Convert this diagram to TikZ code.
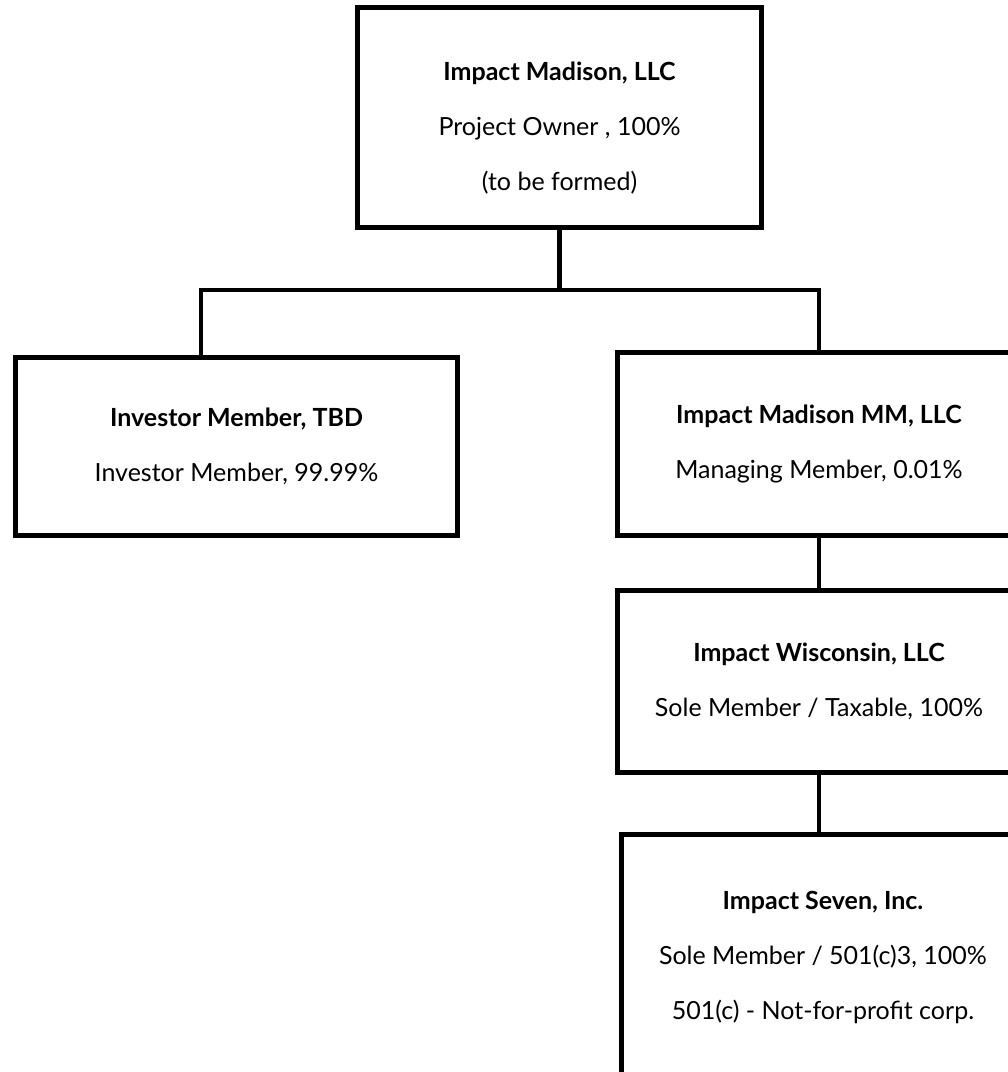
\documentclass[tikz,border=0pt]{standalone}
\usepackage{fontspec}
\setmainfont{Lato}
\usepackage{tikz}

\tikzset{
  orgbox/.style={draw, line width=5pt, rectangle, align=center,
    font=\fontsize{25}{55}\selectfont, inner sep=0pt},
  orgtext/.style={align=center, font=\fontsize{25}{55}\selectfont, inner sep=0pt},
  wire/.style={line width=4.6pt}
}

\begin{document}
\begin{tikzpicture}[x=1pt,y=-1pt]
\newcommand{\boxw}{403}
\newcommand{\rightx}{819}

\useasboundingbox (0,0) rectangle (1008,1072);
\clip (0,0) rectangle (1008,1072);

% top
\node[orgbox, minimum width=404, minimum height=220] (owner) at (559.5,117.5) {};
\node[orgtext] (ownertext) at (559.5,128)
  {\textbf{Impact Madison, LLC}\\Project Owner , 100\%\\(to be formed)};

% second row
\node[orgbox, minimum width=442, minimum height=178] (investor) at (236.5,446.5)
  {\textbf{Investor Member, TBD}\\Investor Member, 99.99\%};
\node[orgbox, minimum width=\boxw, minimum height=183] (managing) at (\rightx,444)
  {\textbf{Impact Madison MM, LLC}\\Managing Member, 0.01\%};

% chain below the managing member
\node[orgbox, minimum width=\boxw, minimum height=182] (wisconsin) at (\rightx,681.5)
  {\textbf{Impact Wisconsin, LLC}\\Sole Member / Taxable, 100\%};
\node[orgbox, minimum width=\boxw, minimum height=245] (seven) at (823,957)
  {\textbf{Impact Seven, Inc.}\\Sole Member / 501(c)3, 100\%\\501(c) - Not-for-profit corp.};

% connectors
\coordinate (split) at (559.5,290);
\coordinate (lefttap) at (201,290);
\draw[wire] (owner.south) -- (split);
\draw[wire] (split) -- (lefttap) -- (lefttap |- investor.north);
\draw[wire] (split) -| (managing.north);
\draw[wire] (managing.south) -- (wisconsin.north);
\draw[wire] (wisconsin.south) -- (wisconsin.south |- seven.north);
\end{tikzpicture}
\end{document}
